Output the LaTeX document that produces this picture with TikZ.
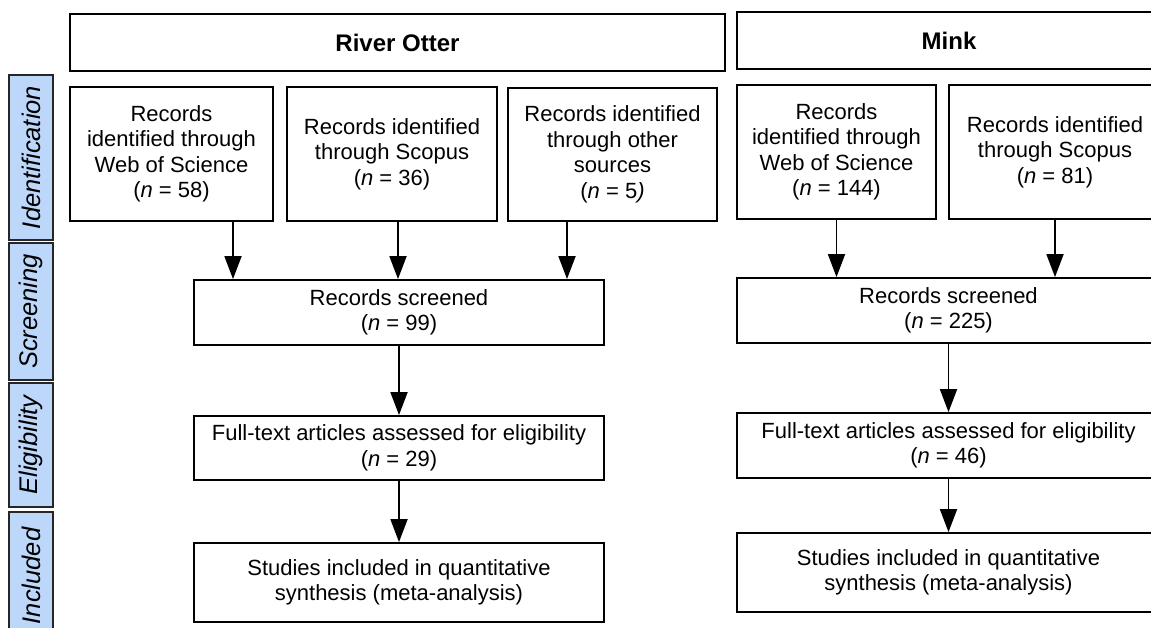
\documentclass[tikz,border=0pt]{standalone}
\usepackage{fontspec}
\setmainfont{Liberation Sans}
\usetikzlibrary{arrows.meta}
\definecolor{barblue}{RGB}{189,215,250}
\begin{document}
\begin{tikzpicture}[x=1pt,y=-1pt,
  box/.style={draw=black, line width=1.8pt, align=center, inner sep=0pt, anchor=center,
    font=\fontsize{22}{25.5}\selectfont},
  hdr/.style={box, font=\fontsize{24}{28}\selectfont\bfseries},
  stage/.style={draw=black!85, line width=1.6pt, fill=barblue, inner sep=0pt, rotate=90,
    minimum height=44pt, font=\fontsize{25.5}{28}\selectfont\itshape},
  arr/.style={line width=1.8pt, -{Triangle[width=17pt,length=23pt]}}]
\useasboundingbox (0,0) rectangle (1151,628);
\clip (0,0) rectangle (1151,628);

% stage bars
\node[stage, minimum width=165pt] (b1) at (31,157.5) {Identification};
\node[stage, minimum width=137pt] (b2) at (31,311.5) {Screening};
\node[stage, minimum width=124pt] (b3) at (31,445) {Eligibility};
\node[stage, minimum width=128pt] (b4) at (31,576) {Included};

% River Otter
\node[hdr, minimum width=655pt, minimum height=57pt] (oh) at (397.5,42.5) {River Otter};
\node[box, minimum width=203pt, minimum height=134pt] (o1) at (171.5,154)
  {Records\\identified through\\Web of Science\\(\textit{n} = 58)};
\node[box, minimum width=210pt, minimum height=134pt] (o2) at (392,154)
  {Records identified\\through Scopus\\(\textit{n} = 36)};
\node[box, minimum width=209pt, minimum height=133pt] (o3) at (612.5,154.5)
  {Records identified\\through other\\sources\\(\textit{n} = 5\textit{)}};
\node[box, minimum width=410pt, minimum height=65pt] (os) at (399,312.5)
  {Records screened\\(\textit{n} = 99)};
\node[box, minimum width=410pt, minimum height=64pt] (oe) at (399,448)
  {Full-text articles assessed for eligibility\\(\textit{n} = 29)};
\node[box, minimum width=410pt, minimum height=79pt] (oi) at (399,582.5)
  {Studies included in quantitative\\synthesis (meta-analysis)};

\draw[arr] ([xshift=61.5pt]o1.south) -- ([xshift=61.5pt]o1.south |- os.north);
\draw[arr] ([xshift=6pt]o2.south) -- ([xshift=6pt]o2.south |- os.north);
\draw[arr] ([xshift=-45.5pt]o3.south) -- ([xshift=-45.5pt]o3.south |- os.north);
\draw[arr] (os.south) -- (oe.north);
\draw[arr] (oe.south) -- (oi.north);

% Mink
\node[hdr, minimum width=424pt, minimum height=57pt] (mh) at (949,40.5) {Mink};
\node[box, minimum width=199pt, minimum height=134pt] (m1) at (836.5,152)
  {Records\\identified through\\Web of Science\\(\textit{n} = 144)};
\node[box, minimum width=212pt, minimum height=134pt] (m2) at (1055,152)
  {Records identified\\through Scopus\\(\textit{n} = 81)};
\node[box, minimum width=423pt, minimum height=65pt] (ms) at (948.5,310.5)
  {Records screened\\(\textit{n} = 225)};
\node[box, minimum width=423pt, minimum height=65pt] (me) at (948.5,445.5)
  {Full-text articles assessed for eligibility\\(\textit{n} = 46)};
\node[box, minimum width=423pt, minimum height=79pt] (mi) at (948.5,572.5)
  {Studies included in quantitative\\synthesis (meta-analysis)};

\draw[arr] (m1.south) -- (m1.south |- ms.north);
\draw[arr] (m2.south) -- (m2.south |- ms.north);
\draw[arr] (ms.south) -- (me.north);
\draw[arr] (me.south) -- (mi.north);
\end{tikzpicture}
\end{document}
